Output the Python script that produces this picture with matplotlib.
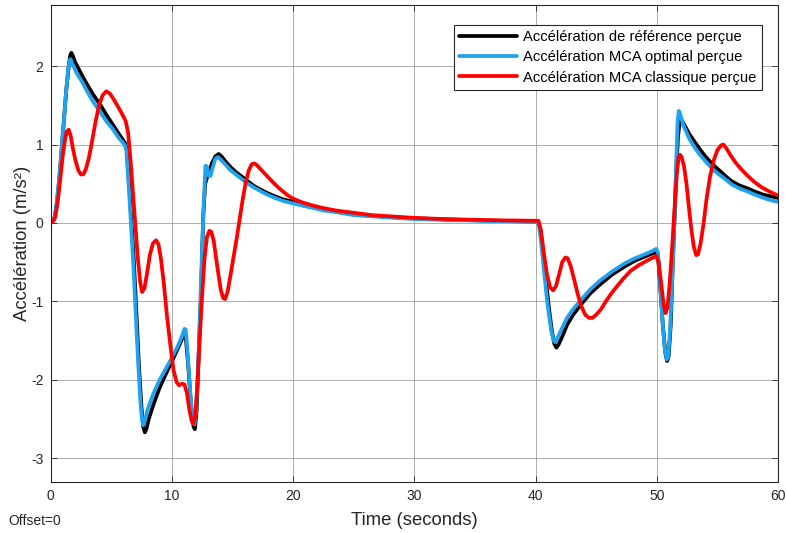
"""
Accélérations perçues : référence, MCA optimal et MCA classique
"""
import matplotlib
matplotlib.use("Agg")
import matplotlib.pyplot as plt

# Accélération de référence perçue
t_ref = [0, 0.3, 0.5, 0.7, 0.9, 1.1, 1.3, 1.5, 1.62, 1.72, 1.85, 2.0, 2.2, 2.6, 3.0, 3.5,
         4.1, 4.6, 5.2, 5.7, 6.15, 6.3, 6.5, 6.85, 7.1, 7.3, 7.5, 7.65, 7.78, 7.9, 8.1,
         8.5, 9.0, 9.5, 9.9, 10.5, 10.9, 11.05, 11.15, 11.35, 11.6, 11.8, 11.9, 12.05,
         12.2, 12.4, 12.6, 12.75, 12.95, 13.1, 13.3, 13.6, 13.87, 14.1, 14.4, 14.8, 15.2,
         15.7, 16.2, 16.8, 17.4, 17.9, 18.5, 19.2, 20.0, 20.8, 21.7, 22.5, 23.5, 25.0,
         26.5, 28.0, 30.0, 32.5, 35.0, 37.5, 40.2, 40.4, 40.6, 40.85, 41.1, 41.35, 41.55,
         41.72, 41.9, 42.2, 42.6, 43.1, 43.7, 44.5, 45.35, 46.3, 47.3, 48.2, 49.0, 49.6,
         49.95, 50.1, 50.3, 50.5, 50.7, 50.85, 50.98, 51.15, 51.3, 51.45, 51.6, 51.75,
         51.9, 52.0, 52.2, 52.7, 53.1, 53.5, 54.0, 54.35, 54.8, 55.3, 55.8, 56.2, 56.8,
         57.5, 58.1, 58.8, 59.4, 60.0]
a_ref = [0, 0.04, 0.22, 0.52, 0.9, 1.3, 1.7, 2.0, 2.13, 2.17, 2.13, 2.06, 2.0, 1.88, 1.77, 1.64,
         1.51, 1.38, 1.24, 1.12, 1.02, 0.92, 0.45, -0.42, -1.2, -1.85, -2.35, -2.6, -2.67, -2.63, -2.5,
         -2.31, -2.1, -1.93, -1.8, -1.6, -1.46, -1.41, -1.45, -1.8, -2.35, -2.6, -2.63, -2.4,
         -1.75, -0.95, 0.1, 0.5, 0.6, 0.63, 0.76, 0.85, 0.88, 0.85, 0.79, 0.72, 0.66,
         0.6, 0.54, 0.47, 0.42, 0.38, 0.34, 0.3, 0.27, 0.24, 0.2, 0.18, 0.15, 0.11,
         0.09, 0.075, 0.06, 0.045, 0.035, 0.025, 0.018, -0.08, -0.35, -0.72, -1.08, -1.38, -1.54,
         -1.59, -1.55, -1.45, -1.3, -1.17, -1.05, -0.9, -0.78, -0.66, -0.56, -0.48, -0.43, -0.39,
         -0.37, -0.42, -0.85, -1.3, -1.65, -1.76, -1.7, -1.3, -0.6, 0.0, 0.65, 1.1,
         1.3, 1.32, 1.27, 1.13, 1.04, 0.95, 0.85, 0.79, 0.72, 0.65, 0.58, 0.53, 0.48,
         0.44, 0.4, 0.36, 0.34, 0.32]

# Accélération MCA optimal perçue
t_opt = [0, 0.3, 0.5, 0.7, 0.9, 1.1, 1.3, 1.45, 1.58, 1.65, 1.8, 2.16, 2.6, 2.98, 3.5,
         4.08, 4.6, 5.17, 5.6, 6.1, 6.25, 6.5, 6.82, 7.0, 7.23, 7.42, 7.55, 7.65, 7.78,
         8.0, 8.5, 9.0, 9.5, 9.9, 10.5, 10.9, 11.05, 11.15, 11.3, 11.55, 11.75, 11.87,
         12.0, 12.2, 12.37, 12.6, 12.78, 12.9, 13.05, 13.2, 13.4, 13.6, 13.8, 14.1, 14.4,
         14.8, 15.2, 15.7, 16.2, 16.8, 17.4, 17.9, 18.5, 19.2, 20.0, 20.8, 21.7, 22.5,
         23.5, 25.0, 26.5, 28.0, 30.0, 32.5, 35.0, 37.5, 40.1, 40.3, 40.5, 40.75, 41.0,
         41.3, 41.5, 41.62, 41.8, 42.1, 42.6, 43.1, 43.7, 44.5, 45.35, 46.3, 47.3, 48.2,
         49.0, 49.6, 49.95, 50.1, 50.25, 50.45, 50.65, 50.82, 50.95, 51.1, 51.3, 51.45,
         51.6, 51.72, 51.82, 51.95, 52.2, 52.7, 53.1, 53.5, 54.0, 54.35, 54.8, 55.3, 55.8,
         56.2, 56.8, 57.5, 58.1, 58.8, 59.4, 60.0]
a_opt = [0, 0.04, 0.25, 0.55, 0.92, 1.3, 1.7, 1.95, 2.07, 2.09, 2.03, 1.91, 1.8, 1.69, 1.55,
         1.42, 1.3, 1.19, 1.09, 1.0, 0.93, 0.35, -0.51, -1.08, -1.79, -2.3, -2.52, -2.58, -2.52,
         -2.38, -2.17, -2.0, -1.86, -1.75, -1.57, -1.42, -1.35, -1.36, -1.65, -2.22, -2.52, -2.57,
         -2.42, -1.75, -0.93, 0.1, 0.73, 0.72, 0.6, 0.6, 0.72, 0.82, 0.84, 0.8, 0.75,
         0.68, 0.63, 0.57, 0.51, 0.45, 0.4, 0.36, 0.32, 0.28, 0.25, 0.22, 0.19, 0.16,
         0.14, 0.1, 0.085, 0.07, 0.05, 0.04, 0.03, 0.022, 0.015, -0.05, -0.3, -0.69, -1.05,
         -1.38, -1.5, -1.52, -1.47, -1.37, -1.21, -1.1, -0.99, -0.85, -0.73, -0.62, -0.52, -0.45,
         -0.4, -0.36, -0.33, -0.38, -0.7, -1.2, -1.6, -1.74, -1.7, -1.35, -0.6, 0.0,
         0.75, 1.3, 1.43, 1.38, 1.24, 1.07, 0.97, 0.88, 0.79, 0.73, 0.66, 0.6, 0.54,
         0.49, 0.44, 0.4, 0.36, 0.32, 0.29, 0.27]

# Accélération MCA classique perçue
t_cla = [0, 0.2, 0.4, 0.6, 0.8, 1.0, 1.2, 1.35, 1.5, 1.65, 1.85, 2.05, 2.3, 2.5, 2.7, 2.9,
         3.15, 3.4, 3.7, 4.0, 4.3, 4.6, 4.9, 5.2, 5.5, 5.8, 6.0, 6.2, 6.4, 6.6, 6.8, 7.0,
         7.2, 7.4, 7.56, 7.75, 7.95, 8.2, 8.45, 8.7, 8.9, 9.1, 9.33, 9.6, 9.9, 10.15, 10.4,
         10.6, 10.85, 11.05, 11.25, 11.45, 11.65, 11.78, 11.92, 12.1, 12.3, 12.5, 12.7,
         12.9, 13.1, 13.25, 13.45, 13.65, 13.85, 14.05, 14.25, 14.4, 14.6, 14.85, 15.1,
         15.35, 15.6, 15.85, 16.1, 16.35, 16.6, 16.8, 17.0, 17.3, 17.85, 18.4, 18.95, 19.5,
         20.0, 20.8, 21.7, 22.5, 23.5, 25.0, 26.5, 28.0, 30.0, 32.5, 35.0, 37.5, 40.25,
         40.45, 40.7, 40.95, 41.2, 41.45, 41.7, 41.95, 42.2, 42.45, 42.65, 42.9, 43.2, 43.5,
         43.8, 44.1, 44.4, 44.7, 45.0, 45.4, 45.8, 46.2, 46.7, 47.3, 47.85, 48.5, 49.2,
         49.7, 49.95, 50.15, 50.35, 50.55, 50.72, 50.88, 51.05, 51.25, 51.45, 51.65, 51.8,
         51.92, 52.05, 52.25, 52.45, 52.65, 52.85, 53.05, 53.25, 53.4, 53.6, 53.85, 54.1,
         54.4, 54.7, 55.0, 55.3, 55.5, 55.75, 56.1, 56.5, 57.0, 57.5, 58.0, 58.6, 59.3, 60.0]
a_cla = [0, 0.02, 0.08, 0.28, 0.55, 0.85, 1.07, 1.17, 1.19, 1.12, 0.95, 0.8, 0.67, 0.62, 0.62, 0.68,
         0.82, 1.02, 1.28, 1.5, 1.63, 1.68, 1.65, 1.58, 1.5, 1.42, 1.36, 1.3, 1.15, 0.8, 0.38, -0.05,
         -0.45, -0.76, -0.88, -0.83, -0.65, -0.4, -0.26, -0.22, -0.27, -0.45, -0.75, -1.18, -1.58, -1.88, -2.03,
         -2.07, -2.05, -2.06, -2.17, -2.38, -2.53, -2.56, -2.48, -2.1, -1.5, -0.93, -0.45,
         -0.18, -0.1, -0.11, -0.22, -0.44, -0.66, -0.86, -0.96, -0.97, -0.88, -0.66, -0.43,
         -0.2, 0.05, 0.3, 0.52, 0.67, 0.75, 0.76, 0.74, 0.69, 0.6, 0.51, 0.43, 0.36,
         0.31, 0.26, 0.22, 0.19, 0.16, 0.13, 0.1, 0.085, 0.065, 0.05, 0.04, 0.033, 0.028,
         -0.1, -0.4, -0.66, -0.82, -0.86, -0.8, -0.65, -0.5, -0.44, -0.45, -0.55, -0.73, -0.92,
         -1.07, -1.17, -1.21, -1.21, -1.17, -1.1, -1.0, -0.91, -0.81, -0.7, -0.61, -0.54, -0.48,
         -0.44, -0.42, -0.5, -0.75, -1.02, -1.15, -1.08, -0.8, -0.35, 0.15, 0.62, 0.84,
         0.87, 0.84, 0.72, 0.5, 0.2, -0.08, -0.3, -0.41, -0.4, -0.27, -0.02, 0.3,
         0.6, 0.8, 0.93, 0.99, 1.0, 0.95, 0.86, 0.77, 0.68, 0.6, 0.53, 0.46, 0.4, 0.35]

labels = ["Accélération de référence perçue",
          "Accélération MCA optimal perçue",
          "Accélération MCA classique perçue"]
colors = ["#000000", "#1ea3f0", "#ff0000"]

plt.rcParams["font.family"] = ["Liberation Sans", "DejaVu Sans"]
plt.rcParams["axes.unicode_minus"] = False

fig = plt.figure(figsize=(7.87, 5.33), dpi=100)
ax = fig.add_axes([0.0642, 0.0962, 0.9244, 0.8944])

for t, a, lab, c in zip([t_ref, t_opt, t_cla], [a_ref, a_opt, a_cla], labels, colors):
    ax.plot(t, a, color=c, linewidth=2.7, label=lab,
            solid_joinstyle="round", solid_capstyle="round")

ax.set_xlim(0, 60)
ax.set_ylim(-3.3, 2.78)
ax.set_xticks(range(0, 61, 10))
ax.set_yticks([-3, -2, -1, 0, 1, 2])

# Style proche de MATLAB
ax.grid(True, color="#9a9a9a", linewidth=0.7, alpha=0.8)
ax.set_axisbelow(True)
for sp in ax.spines.values():
    sp.set_color("#262626")
    sp.set_linewidth(0.8)
ax.tick_params(direction="in", length=4, width=0.6, top=True, right=True,
               colors="#262626", labelsize=10, pad=5)

ax.set_xlabel("Time (seconds)", fontsize=13.3, color="#262626", labelpad=7)
ax.set_ylabel("Accélération (m/s²)", fontsize=13.3, color="#262626", labelpad=0)

leg = ax.legend(loc="upper right", bbox_to_anchor=(0.9776, 0.958), borderaxespad=0,
                fontsize=10.6, handlelength=3.9, handletextpad=0.45, labelspacing=0.42,
                borderpad=0.35, fancybox=False, framealpha=1)
leg.get_frame().set_edgecolor("#262626")
leg.get_frame().set_linewidth(0.8)

fig.text(0.0102, 0.0225, "Offset=0", fontsize=10, color="#262626", va="center", ha="left")

fig.savefig("out.png", dpi=100)
